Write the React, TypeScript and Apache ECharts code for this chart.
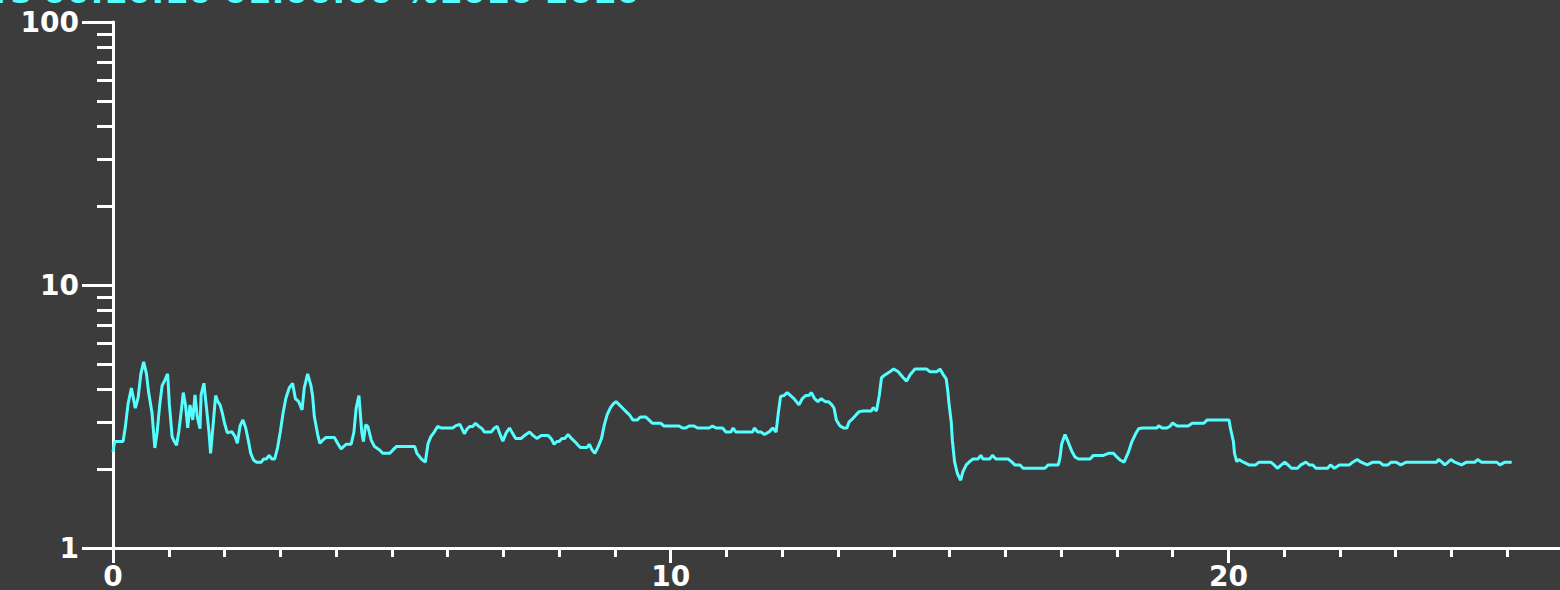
import React, { useEffect, useRef } from "react";
import * as echarts from "echarts";

const TITLE = "rs 00:10:10 01:00:00 %1010 2010";

const X_TICK_LABELS = [0, 10, 20];
const Y_TICK_LABELS = [1, 10, 100];

const X_VALUES = [
  0.00, 0.03, 0.18, 0.22, 0.27, 0.33, 0.40, 0.45, 0.50, 0.55, 0.60, 0.64, 0.70, 0.75, 0.79, 0.84, 0.88, 0.93, 0.98,
  1.01, 1.06, 1.10, 1.14, 1.18, 1.23, 1.26, 1.30, 1.34, 1.38, 1.43, 1.47, 1.51, 1.56, 1.58, 1.63, 1.68, 1.72, 1.75,
  1.80, 1.84, 1.88, 1.92, 1.96, 2.00, 2.05, 2.13, 2.19, 2.23, 2.28, 2.33, 2.38, 2.43, 2.47, 2.52, 2.57, 2.66, 2.70,
  2.75, 2.80, 2.85, 2.90, 2.95, 3.00, 3.05, 3.10, 3.16, 3.22, 3.27, 3.33, 3.39, 3.43, 3.49, 3.55, 3.58, 3.61, 3.67,
  3.71, 3.76, 3.82, 3.97, 4.02, 4.09, 4.18, 4.27, 4.32, 4.36, 4.41, 4.46, 4.49, 4.53, 4.57, 4.63, 4.69, 4.78, 4.84,
  4.96, 5.02, 5.08, 5.41, 5.45, 5.53, 5.60, 5.65, 5.70, 5.76, 5.82, 5.88, 6.09, 6.15, 6.22, 6.30, 6.35, 6.40, 6.45,
  6.50, 6.56, 6.62, 6.66, 6.78, 6.84, 6.89, 6.93, 6.99, 7.05, 7.11, 7.16, 7.22, 7.32, 7.38, 7.47, 7.53, 7.60, 7.68,
  7.80, 7.86, 7.91, 7.96, 8.00, 8.05, 8.10, 8.16, 8.22, 8.28, 8.34, 8.38, 8.50, 8.54, 8.59, 8.64, 8.70, 8.76, 8.81,
  8.86, 8.92, 8.97, 9.02, 9.08, 9.14, 9.20, 9.26, 9.32, 9.40, 9.46, 9.55, 9.61, 9.67, 9.82, 9.88, 10.15, 10.21, 10.27,
  10.33, 10.42, 10.48, 10.69, 10.75, 10.81, 10.93, 10.99, 11.08, 11.12, 11.17, 11.47, 11.50, 11.56, 11.62, 11.68,
  11.77, 11.83, 11.89, 11.93, 11.97, 12.03, 12.09, 12.15, 12.21, 12.30, 12.36, 12.42, 12.48, 12.52, 12.58, 12.64,
  12.70, 12.77, 12.83, 12.89, 12.93, 12.97, 13.03, 13.10, 13.16, 13.20, 13.26, 13.32, 13.38, 13.45, 13.60, 13.63,
  13.69, 13.74, 13.78, 13.84, 13.93, 14.00, 14.08, 14.17, 14.23, 14.29, 14.38, 14.59, 14.65, 14.77, 14.83, 14.89,
  14.94, 14.97, 14.99, 15.03, 15.05, 15.09, 15.14, 15.20, 15.24, 15.30, 15.36, 15.42, 15.51, 15.56, 15.60, 15.72,
  15.77, 15.83, 16.05, 16.11, 16.17, 16.26, 16.32, 16.71, 16.77, 16.95, 16.98, 17.01, 17.07, 17.13, 17.19, 17.25,
  17.31, 17.52, 17.58, 17.76, 17.85, 17.94, 18.00, 18.06, 18.13, 18.21, 18.27, 18.33, 18.39, 18.45, 18.72, 18.75,
  18.81, 18.90, 18.96, 19.00, 19.08, 19.28, 19.35, 19.56, 19.62, 20.01, 20.04, 20.09, 20.11, 20.15, 20.19, 20.27,
  20.37, 20.49, 20.55, 20.76, 20.82, 20.88, 20.95, 21.01, 21.07, 21.13, 21.24, 21.30, 21.39, 21.45, 21.51, 21.57,
  21.78, 21.83, 21.90, 21.99, 22.17, 22.23, 22.31, 22.38, 22.49, 22.59, 22.71, 22.77, 22.86, 22.92, 23.01, 23.09,
  23.19, 23.73, 23.77, 23.83, 23.88, 23.94, 23.99, 24.06, 24.18, 24.27, 24.42, 24.47, 24.54, 24.81, 24.87, 24.96,
  25.08,
];

const Y_VALUES = [
  2.32, 2.54, 2.54, 2.87, 3.53, 4.06, 3.40, 3.72, 4.59, 5.10, 4.59, 3.89, 3.26, 2.40, 2.74, 3.53, 4.14, 4.35, 4.59,
  3.53, 2.65, 2.54, 2.46, 2.77, 3.40, 3.90, 3.50, 2.86, 3.50, 3.07, 3.82, 3.16, 2.84, 3.82, 4.23, 3.35, 2.77, 2.29,
  3.02, 3.80, 3.60, 3.50, 3.26, 2.98, 2.74, 2.77, 2.65, 2.50, 2.92, 3.07, 2.86, 2.54, 2.29, 2.16, 2.12, 2.12, 2.18,
  2.18, 2.25, 2.18, 2.18, 2.40, 2.77, 3.26, 3.71, 4.06, 4.23, 3.70, 3.60, 3.35, 4.06, 4.59, 4.14, 3.77, 3.16, 2.70,
  2.50, 2.57, 2.63, 2.63, 2.52, 2.38, 2.48, 2.48, 2.76, 3.40, 3.80, 2.77, 2.54, 2.94, 2.90, 2.57, 2.43, 2.36, 2.29,
  2.29, 2.36, 2.43, 2.43, 2.29, 2.18, 2.12, 2.50, 2.65, 2.76, 2.90, 2.86, 2.86, 2.92, 2.95, 2.72, 2.84, 2.90, 2.90,
  2.98, 2.90, 2.84, 2.76, 2.76, 2.86, 2.90, 2.74, 2.55, 2.74, 2.86, 2.74, 2.61, 2.61, 2.68, 2.76, 2.68, 2.61, 2.68,
  2.68, 2.60, 2.48, 2.54, 2.54, 2.61, 2.61, 2.70, 2.61, 2.54, 2.46, 2.41, 2.41, 2.48, 2.36, 2.29, 2.43, 2.61, 2.94,
  3.21, 3.42, 3.53, 3.60, 3.50, 3.40, 3.30, 3.21, 3.07, 3.07, 3.15, 3.15, 3.07, 2.98, 2.98, 2.91, 2.91, 2.86, 2.86,
  2.91, 2.91, 2.86, 2.86, 2.91, 2.86, 2.86, 2.76, 2.76, 2.86, 2.76, 2.76, 2.86, 2.76, 2.76, 2.70,
  2.77, 2.86, 2.76, 3.26, 3.77, 3.80, 3.90, 3.80, 3.70, 3.50, 3.70, 3.80, 3.80, 3.90, 3.70, 3.60,
  3.70, 3.60, 3.60, 3.50, 3.40, 3.07, 2.92, 2.86, 2.86, 3.02, 3.10, 3.20, 3.30, 3.32, 3.32, 3.42,
  3.32, 3.80, 4.44, 4.55, 4.68, 4.79, 4.68, 4.44, 4.31, 4.55, 4.79, 4.79, 4.68, 4.68, 4.79, 4.55,
  4.40, 3.93, 3.55, 3.02, 2.57, 2.13, 1.92, 1.81, 1.95, 2.07, 2.13, 2.18, 2.18, 2.25, 2.18, 2.18,
  2.25, 2.18, 2.18, 2.13, 2.07, 2.07, 2.01, 2.01, 2.07, 2.07, 2.20, 2.48, 2.70, 2.52, 2.34, 2.22,
  2.18, 2.18, 2.25, 2.25, 2.29, 2.29, 2.22, 2.16, 2.12, 2.32, 2.54, 2.70, 2.84, 2.86, 2.86, 2.92,
  2.86, 2.86, 2.91, 2.99, 2.91, 2.91, 2.98, 2.98, 3.07, 3.07, 2.83, 2.54, 2.29, 2.13, 2.17, 2.12,
  2.07, 2.07, 2.12, 2.12, 2.07, 2.01, 2.07, 2.12, 2.07, 2.01, 2.01, 2.07, 2.12, 2.07, 2.07, 2.01,
  2.01, 2.07, 2.01, 2.07, 2.07, 2.12, 2.17, 2.12, 2.07, 2.12, 2.12, 2.07, 2.07, 2.12, 2.12, 2.07,
  2.12, 2.12, 2.17, 2.12, 2.07, 2.12, 2.17, 2.12, 2.07, 2.12, 2.12, 2.17, 2.12, 2.12, 2.07, 2.12,
  2.12,
];

const BG = "#3c3c3c";
const FG = "#ffffff";
const CYAN = "#55ffff";
const LABEL_FONT = "DejaVu Sans";

export default function App() {
  const ref = useRef<HTMLDivElement>(null);

  useEffect(() => {
    if (!ref.current) return;
    const chart = echarts.init(ref.current, undefined, { renderer: "svg" });
    const data = X_VALUES.map((x, i) => [x, Y_VALUES[i]]);
    const labelStyle = {
      color: FG,
      fontFamily: LABEL_FONT,
      fontWeight: "bold" as const,
      fontSize: 28,
    };
    chart.setOption({
      animation: false,
      backgroundColor: BG,
      grid: {
        left: 113,
        width: 1450,
        top: 22,
        bottom: 42,
        containLabel: false,
        outerBoundsMode: "none",
      },
      xAxis: [
        {
          type: "value",
          min: 0,
          max: 26,
          interval: 1,
          position: "bottom",
          axisLine: { show: true, lineStyle: { color: FG, width: 3 } },
          axisTick: { show: true, length: 9, lineStyle: { color: FG, width: 3 } },
          axisLabel: { show: false },
          splitLine: { show: false },
        },
        {
          type: "value",
          min: 0,
          max: 26,
          interval: 10,
          position: "bottom",
          axisLine: { show: false },
          axisTick: { show: true, length: 15, lineStyle: { color: FG, width: 3 } },
          axisLabel: {
            ...labelStyle,
            margin: 14,
            formatter: (v: number) => (X_TICK_LABELS.includes(v) ? String(v) : ""),
          },
          splitLine: { show: false },
        },
      ],
      yAxis: {
        type: "log",
        logBase: 10,
        min: 1,
        max: 100,
        axisLine: { show: true, lineStyle: { color: FG, width: 3 } },
        axisTick: { show: true, length: 31, lineStyle: { color: FG, width: 3 } },
        minorTick: { show: true, splitNumber: 9, length: 16, lineStyle: { color: FG, width: 3 } },
        axisLabel: {
          ...labelStyle,
          margin: 34,
          formatter: (v: number) => (Y_TICK_LABELS.includes(v) ? String(v) : ""),
        },
        splitLine: { show: false },
        minorSplitLine: { show: false },
      },
      graphic: [
        {
          type: "text",
          x: -6,
          y: 8,
          style: {
            text: TITLE,
            fill: CYAN,
            font: `bold 34px "${LABEL_FONT}"`,
            verticalAlign: "bottom",
          },
        },
      ],
      series: [
        {
          type: "line",
          xAxisIndex: 0,
          data,
          showSymbol: false,
          symbol: "none",
          lineStyle: { color: CYAN, width: 3 },
          clip: true,
        },
      ],
    });
    return () => chart.dispose();
  }, []);

  return (
    <div
      ref={ref}
      style={{ position: "absolute", left: 0, top: 0, width: 1560, height: 590, background: BG }}
    />
  );
}
